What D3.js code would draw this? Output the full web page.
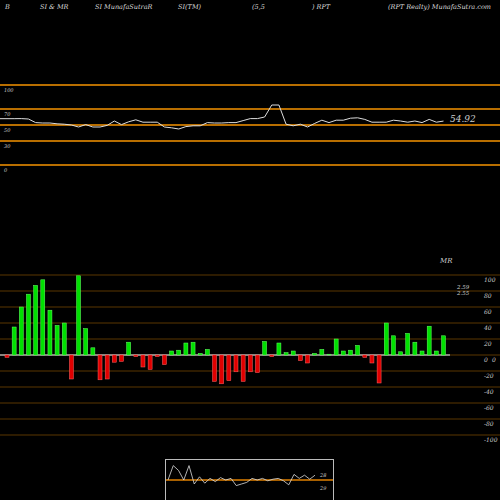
<!DOCTYPE html>
<html><head><meta charset="utf-8">
<script src="https://cdn.jsdelivr.net/npm/d3@7"></script>
<style>body{margin:0;background:#000}svg{display:block}text{font-family:"DejaVu Serif",serif;font-style:italic}</style>
</head><body>
<svg id="chart" width="500" height="500"></svg>
<script>
// MRSI histogram values, one per session
var mrsi = [-3,35,60,76,87,94,56,37,40,-30,99,33,9,-31,-30,-9,-8,16,-2,-15,-18,-2,-12,5,6,15,16,2,7,-33,-36,-32,-21,-33,-21,-22,17,-2,15,3,5,-7,-10,2,7,1,20,5,6,12,-3,-10,-35,40,24,4,27,16,5,36,5,24];
// RSI line, same sessions
var rsi = [57.9,57.9,58,57.5,53,52.5,52.5,51.5,51,50,47.5,50.5,47.5,47.5,49.5,55,50.5,54,56.5,53.5,53.5,53.5,47.5,46.5,45,48,49,49,53,52.5,52.5,53,53,55.5,58,58,60,75,75,51,49,51,47.5,52,56,53,56,56,58.5,59,57,53.5,53.5,53.5,56,55,53.5,55,53,57,53.5,54.92];
var rsiTicks = [100,70,50,30,0];
var mrsiTicks = [100,80,60,40,20,0,-20,-40,-60,-80,-100];
// mini overview line
var mini = [50,86,74,50,86,40,58,42,54,46,56,50,54,36,40,44,54,50,54,48,52,54,48,38,64,54,62,52,62];
var header = [["B",5],["SI & MR",40],["SI MunafaSutraR",95],["SI(TM)",178],["(5,5",252],[") RPT",312],["(RPT Realty) MunafaSutra.com",388]];

var svg = d3.select('#chart');
header.forEach(function(h){
  svg.append('text').attr('x',h[1]).attr('y',9).attr('fill','#ddd').attr('font-size',6.5).text(h[0]);
});

// RSI panel
var yR = d3.scaleLinear().domain([0,100]).range([165,85]);
var x = d3.scaleLinear().domain([0,rsi.length-1]).range([7,443.5]);
rsiTicks.forEach(function(t){
  svg.append('line').attr('x1',0).attr('x2',500).attr('y1',yR(t)).attr('y2',yR(t)).attr('stroke','#b86e00').attr('stroke-width',2);
  svg.append('text').attr('x',4).attr('y',yR(t)+7).attr('fill','#ccc').attr('font-size',5).text(t);
});
svg.append('path').datum(rsi).attr('fill','none').attr('stroke','#ddd').attr('stroke-width',1)
  .attr('d',d3.line().x(function(d,i){return i===0?0:x(i);}).y(function(d){return yR(d);}));
svg.append('text').attr('x',450).attr('y',122).attr('fill','#ccc').attr('font-size',9).text(rsi[rsi.length-1].toFixed(2));

// MRSI panel
var yM = d3.scaleLinear().domain([-100,100]).range([435,275]);
mrsiTicks.forEach(function(t){
  svg.append('line').attr('x1',0).attr('x2',500).attr('y1',yM(t)).attr('y2',yM(t)).attr('stroke','#3d2400').attr('stroke-width',1.5);
  svg.append('text').attr('x',484).attr('y',yM(t)+7).attr('fill','#ccc').attr('font-size',6).text(t);
});
svg.append('text').attr('x',492).attr('y',yM(0)+7).attr('fill','#ccc').attr('font-size',6).text('0');
svg.append('text').attr('x',440).attr('y',263).attr('fill','#ccc').attr('font-size',7).text('MR');
svg.append('text').attr('x',457).attr('y',289).attr('fill','#ccc').attr('font-size',5.5).text('2.59');
svg.append('text').attr('x',457).attr('y',294.5).attr('fill','#ccc').attr('font-size',5.5).text('2.55');
svg.append('line').attr('x1',0).attr('x2',450).attr('y1',yM(0)).attr('y2',yM(0)).attr('stroke','#aaa').attr('stroke-width',1.5);
svg.selectAll('rect.bar').data(mrsi).enter().append('rect').attr('class','bar')
  .attr('x',function(d,i){return x(i)-2;}).attr('width',4)
  .attr('y',function(d){return d>=0?yM(d):yM(0);})
  .attr('height',function(d){return Math.abs(yM(d)-yM(0));})
  .attr('fill',function(d){return d>=0?'#00e000':'#e00000';})
  .attr('stroke',function(d){return d>=0?'#66ff66':'#ff6666';}).attr('stroke-width',0.5);

// mini overview
svg.append('rect').attr('x',165.5).attr('y',459.5).attr('width',168).attr('height',42).attr('fill','none').attr('stroke','#bbb');
var xm = d3.scaleLinear().domain([0,mini.length-1]).range([168,315]);
var ym = d3.scaleLinear().domain([0,100]).range([500,460]);
svg.append('line').attr('x1',166).attr('x2',333).attr('y1',ym(50)).attr('y2',ym(50)).attr('stroke','#e08000').attr('stroke-width',1.5);
svg.append('path').datum(mini).attr('fill','none').attr('stroke','#ddd').attr('stroke-width',0.8)
  .attr('d',d3.line().x(function(d,i){return xm(i);}).y(function(d){return ym(d);}));
svg.append('text').attr('x',320).attr('y',477).attr('fill','#ccc').attr('font-size',5).text('28');
svg.append('text').attr('x',320).attr('y',490).attr('fill','#ccc').attr('font-size',5).text('29');
</script>
</body></html>
